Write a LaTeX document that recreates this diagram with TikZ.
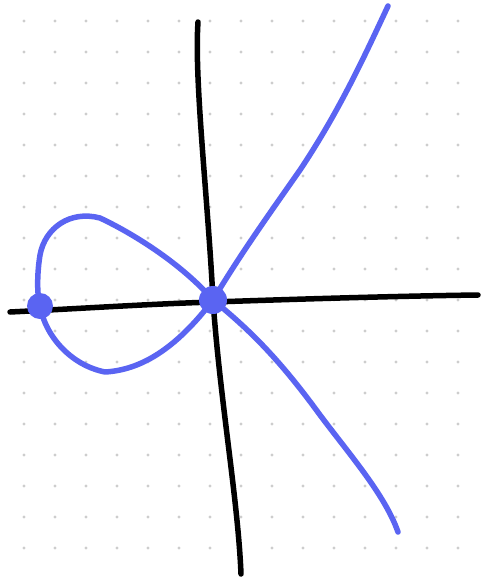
\documentclass[tikz,border=0pt]{standalone}
\usetikzlibrary{calc}
\definecolor{penblue}{RGB}{90,100,242}
\definecolor{dotgray}{RGB}{205,205,205}
\begin{document}
\begin{tikzpicture}[x=1pt,y=-1pt,
  axis/.style={line width=5.5pt,line cap=round,line join=round,black},
  curve/.style={line width=5.5pt,line cap=round,line join=round,penblue},
  blob/.style={circle,fill=penblue,inner sep=0pt}]
\useasboundingbox (0,0) rectangle (482,579);
\fill[white] (0,0) rectangle (482,579);
% dot grid
\foreach \i in {0,...,14}{\foreach \j in {0,...,17}{
  \fill[dotgray] ({24+31*\i},{21+31*\j}) circle (1.6);}}
% axes
\coordinate (xl) at (10,312);
\coordinate (xr) at (478,295);
\coordinate (yt) at (198,22);
\coordinate (yb) at (241,574);
\draw[axis] (xl) .. controls (90,308) and (150,304) .. (213,302)
  .. controls (300,299) and (400,296) .. (xr);
\draw[axis] (yt) .. controls (194,80) and (208,200) .. (213,300)
  .. controls (220,400) and (238,500) .. (yb);
% blue curve
\coordinate (ne) at (388,6);
\coordinate (se) at (398,532);
\node[blob,minimum size=28pt] (o) at (213,300) {};
\node[blob,minimum size=26pt] (l) at (40,306) {};
\draw[curve] (ne) .. controls (365,55) and (340,110) .. (300,170)
  .. controls (265,220) and (240,255) .. (o.center);
\draw[curve] (o.center) .. controls (250,330) and (280,360) .. (320,415)
  .. controls (350,455) and (385,495) .. (se);
\draw[curve] (o.center) .. controls (180,262) and (130,232) .. (100,218)
  .. controls (70,210) and (45,228) .. (40,255)
  .. controls (36,280) and (38,300) .. (l.center);
\draw[curve] (l.center) .. controls (45,335) and (70,365) .. (105,372)
  .. controls (140,370) and (175,350) .. (o.center);
\end{tikzpicture}
\end{document}
